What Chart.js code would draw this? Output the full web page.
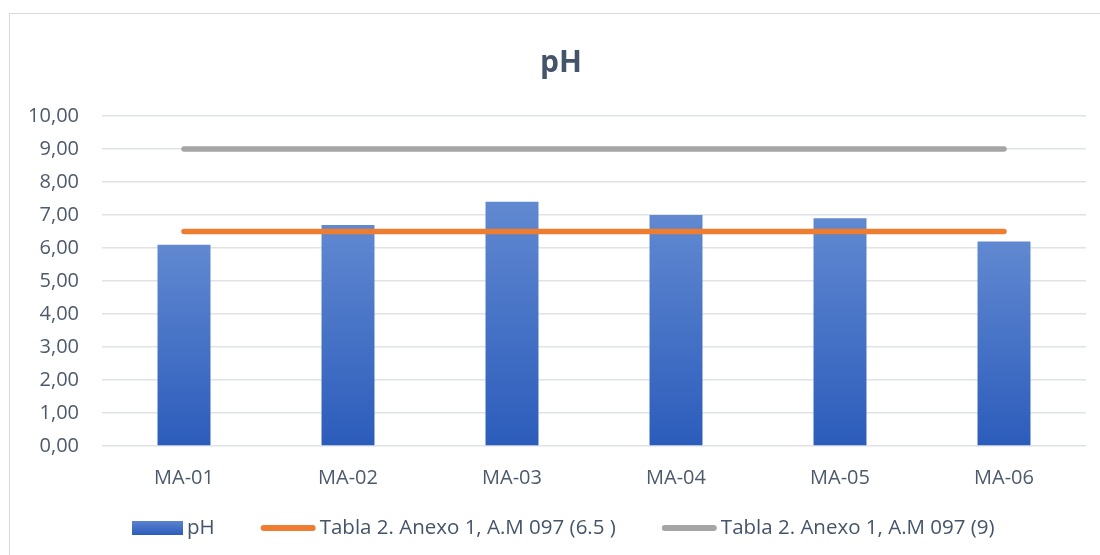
<!DOCTYPE html>
<html>
<head>
<meta charset="utf-8">
<script src="https://cdn.jsdelivr.net/npm/chart.js@4"></script>
<style>
  html, body { margin: 0; padding: 0; background: #fff; overflow: hidden; }
  #wrap { position: relative; width: 1100px; height: 555px; }
  #frame { position: absolute; left: 9px; top: 13px; width: 1200px; height: 600px; border: 1px solid #d9d9d9; box-sizing: border-box; }
  #box { position: absolute; left: 0; top: 0; width: 1100px; height: 555px; }
</style>
</head>
<body>
<div id="wrap">
  <div id="frame"></div>
  <div id="box"><canvas id="phChart"></canvas></div>
</div>
<script>
const stations = ['MA-01', 'MA-02', 'MA-03', 'MA-04', 'MA-05', 'MA-06'];
const phValues = [6.1, 6.7, 7.4, 7.0, 6.9, 6.2];
const limitLow = [6.5, 6.5, 6.5, 6.5, 6.5, 6.5];
const limitHigh = [9, 9, 9, 9, 9, 9];
const yTickLabels = ['0,00', '1,00', '2,00', '3,00', '4,00', '5,00', '6,00', '7,00', '8,00', '9,00', '10,00'];
const chartTitle = 'pH';

const textColor = '#44546a';
const tickColor = '#4d5a6b';
const fontFamily = '"Open Sans", "Noto Sans", sans-serif';

// vertical gradient for each bar, from its base up to its top
function barGradient(context) {
  const chart = context.chart;
  if (!chart.chartArea || context.dataIndex === undefined) return '#4472c4';
  const y = chart.scales.y;
  const top = y.getPixelForValue(context.raw);
  const bottom = y.getPixelForValue(0);
  const g = chart.ctx.createLinearGradient(0, bottom, 0, top);
  g.addColorStop(0, '#2c5cbb');
  g.addColorStop(1, '#6189d1');
  return g;
}

// title sits a little right of the plot centre, so it is drawn here
const topTitle = {
  id: 'topTitle',
  afterDraw(chart) {
    const ctx = chart.ctx;
    ctx.save();
    ctx.font = 'bold 30px ' + fontFamily;
    ctx.fillStyle = textColor;
    ctx.textAlign = 'center';
    ctx.textBaseline = 'alphabetic';
    ctx.fillText(chartTitle, 561, 72);
    ctx.restore();
  }
};

// legend drawn under the axis: box for the bars, short strokes for the lines
const bottomLegend = {
  id: 'bottomLegend',
  afterDraw(chart) {
    const ctx = chart.ctx;
    const ds = chart.data.datasets;
    const cy = 528;
    ctx.save();
    ctx.font = '20.5px ' + fontFamily;
    ctx.textBaseline = 'middle';
    let x = 132;
    ds.forEach(d => {
      const symW = d.type === 'line' ? 55 : 51;
      if (d.type === 'line') {
        ctx.strokeStyle = d.borderColor;
        ctx.lineWidth = 6;
        ctx.lineCap = 'round';
        ctx.beginPath();
        ctx.moveTo(x + 3, cy);
        ctx.lineTo(x + symW - 3, cy);
        ctx.stroke();
      } else {
        const g = ctx.createLinearGradient(0, cy + 7, 0, cy - 7);
        g.addColorStop(0, '#2c5cbb');
        g.addColorStop(1, '#5a83cf');
        ctx.fillStyle = g;
        ctx.fillRect(x, cy - 7, symW, 14);
      }
      x += symW + 4;
      ctx.fillStyle = textColor;
      ctx.fillText(d.label, x, cy);
      x += ctx.measureText(d.label).width + 46;
    });
    ctx.restore();
  }
};

new Chart(document.getElementById('phChart'), {
  data: {
    labels: stations,
    datasets: [
      {
        type: 'bar',
        label: 'pH',
        data: phValues,
        backgroundColor: barGradient,
        categoryPercentage: 1,
        barPercentage: 0.323,
        order: 2
      },
      {
        type: 'line',
        label: 'Tabla 2. Anexo 1, A.M 097 (6.5 )',
        data: limitLow,
        borderColor: '#ed7d31',
        borderWidth: 5.5,
        borderCapStyle: 'round',
        pointRadius: 0,
        order: 1
      },
      {
        type: 'line',
        label: 'Tabla 2. Anexo 1, A.M 097 (9)',
        data: limitHigh,
        borderColor: '#a5a5a5',
        borderWidth: 5.5,
        borderCapStyle: 'round',
        pointRadius: 0,
        order: 1
      }
    ]
  },
  options: {
    responsive: true,
    maintainAspectRatio: false,
    animation: false,
    layout: { padding: { left: 0, right: 14, top: 116, bottom: 0 } },
    plugins: {
      legend: { display: false },
      tooltip: { enabled: false },
      title: { display: false }
    },
    scales: {
      x: {
        grid: { display: false },
        border: { display: false },
        ticks: {
          color: tickColor,
          padding: 12,
          font: { family: fontFamily, size: 20 }
        },
        afterFit(scale) { scale.height = 109; }
      },
      y: {
        min: 0,
        max: 10,
        grid: { color: '#dfe2e6', lineWidth: 1.5, drawTicks: false },
        border: { display: false },
        ticks: {
          stepSize: 1,
          padding: 23,
          color: tickColor,
          font: { family: fontFamily, size: 20 },
          callback: (value, index) => yTickLabels[index]
        },
        afterFit(scale) { scale.width = 102; }
      }
    }
  },
  plugins: [topTitle, bottomLegend]
});
</script>
</body>
</html>
